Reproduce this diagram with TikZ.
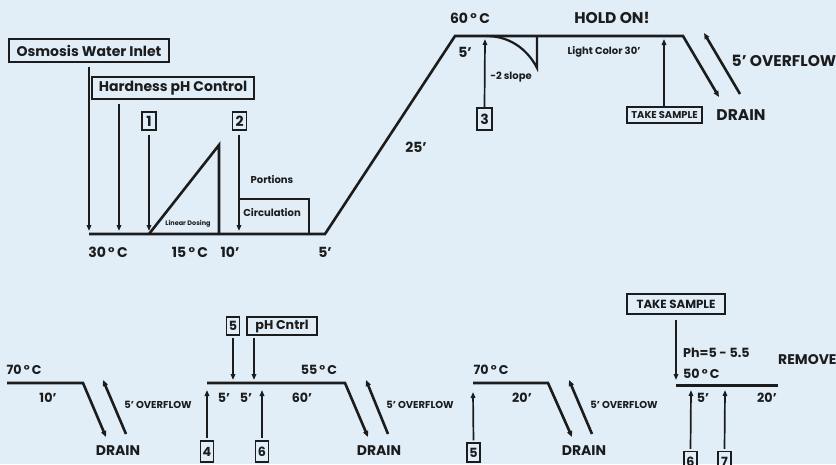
\documentclass[tikz,border=0pt]{standalone}
\usepackage{fontspec}
\setmainfont{Poppins}
\usetikzlibrary{arrows.meta}

\definecolor{bgblue}{RGB}{225,238,248}
\definecolor{ink}{RGB}{28,28,28}

\tikzset{
  big/.style={font=\bfseries\fontsize{14}{15}\selectfont},
  caps/.style={font=\bfseries\fontsize{15.5}{16}\selectfont},
  med/.style={font=\bfseries\fontsize{12.7}{14}\selectfont},
  medcaps/.style={font=\bfseries\fontsize{14}{15}\selectfont},
  mid/.style={font=\bfseries\fontsize{10}{11}\selectfont},
  tiny/.style={font=\bfseries\fontsize{6.5}{7}\selectfont},
  tag/.style={draw=ink, line width=1.1pt, inner sep=0pt},
  numbox/.style={tag, minimum width=13pt, minimum height=19pt},
  profile/.style={draw=ink, line width=2.6pt},
  feed/.style={draw=ink, line width=1.7pt, -{Triangle[length=6pt,width=4.5pt]}},
  drain/.style={profile, -{Triangle[length=6pt,width=5pt]}},
}

\begin{document}
\begin{tikzpicture}[x=1pt, y=-1pt, text=ink]
  \fill[bgblue] (0,0) rectangle (836,464);
  \clip (0,0) rectangle (836,464);

  % ---- phase 1: filling, dosing, heating ----
  \node[tag,big, minimum width=160pt, minimum height=23pt] (osm) at (89,50.5) {Osmosis Water Inlet};
  \node[tag,big, minimum width=162pt, minimum height=22pt] (hard) at (173,88) {Hardness pH Control};
  \node[numbox,big, minimum width=14pt, minimum height=18pt] (one) at (149,121) {1};
  \node[numbox,big, minimum width=14pt, minimum height=18pt] (two) at (239.5,121) {2};
  \node[numbox,big, minimum width=15pt, minimum height=22pt] (three) at (484.5,119) {3};
  \node[tag,font=\bfseries\fontsize{9.9}{10}\selectfont, minimum width=75pt, minimum height=16pt] (sampleA) at (664.5,115) {TAKE SAMPLE};

  \coordinate (osmIn) at (89,231);
  \coordinate (hardIn) at (119,231);
  \coordinate (oneIn) at (149,231);
  \coordinate (twoIn) at (239,231);
  \coordinate (threeIn) at (485,39);
  \coordinate (sampleIn) at (664,39);

  \draw[feed, shorten <=4pt] (osm.south) -- (osmIn);
  \draw[feed, shorten <=4pt] (hard.south -| hardIn) -- (hardIn);
  \draw[feed, shorten <=4pt] (one.south) -- (oneIn);
  \draw[feed, shorten <=4pt] (two.south -| twoIn) -- (twoIn);
  \draw[feed] (three.north) -- (threeIn);
  \draw[feed] (sampleA.north -| sampleIn) -- (sampleIn);

  % temperature profile
  \draw[drain] (89,234) -- (325,234) -- (455,36) -- (683,36) -- (719,97);
  \draw[profile] (149,234) -- (219,145) -- (219,234);
  \draw[profile, line width=2.2pt] (240,199) -- (309,199) -- (309,234);
  \draw[profile, line width=2.2pt] (486,36) .. controls (514,36) and (530,54) .. (537,68) -- (537,36);
  \coordinate (ovA1) at (740,94);
  \coordinate (ovA2) at (704,33);
  \draw[drain] (ovA1) -- (ovA2);

  \node[big] (t60) at (470,18) {60\,°\,C};
  \node[caps] (hold) at (612,18) {HOLD ON!};
  \node[big] (d5a) at (465,52) {5’};
  \node[mid] (slope) at (511,77) {-2 slope};
  \node[mid] (light) at (604,52) {Light Color 30’};
  \node[caps] (ovA) at (784,61) {5’ OVERFLOW};
  \node[caps] (drA) at (741,115) {DRAIN};
  \node[big] (d25) at (416,147) {25’};
  \node[mid] (port) at (272,180) {Portions};
  \node[mid] (circ) at (272,213) {Circulation};
  \node[tiny] (lin) at (188,224) {Linear Dosing};
  \node[big] (t30) at (108,252) {30\,°\,C};
  \node[big] (t15) at (190,252) {15\,°\,C};
  \node[big] (d10) at (230,252) {10’};
  \node[big] (d5b) at (325,252) {5’};

  % ---- phase 2: rinsing, dyeing, neutralising ----
  \draw[drain] (7,383) -- (83,383) -- (106,437);
  \coordinate (ovB1) at (126,434);
  \coordinate (ovB2) at (103,380);
  \draw[drain] (ovB1) -- (ovB2);
  \node[med] (t70a) at (24,370) {70\,°\,C};
  \node[med] (d10b) at (48,398) {10’};
  \node[mid] (ovB) at (158,405) {5’ OVERFLOW};
  \node[medcaps] (drB) at (118,451) {DRAIN};

  \draw[drain] (207,383) -- (345,383) -- (368,437);
  \coordinate (ovC1) at (388,434);
  \coordinate (ovC2) at (366,380);
  \draw[drain] (ovC1) -- (ovC2);
  \node[numbox,med, minimum height=18pt] (fiveA) at (233,326) {5};
  \node[tag,med, minimum width=70pt, minimum height=18pt] (phc) at (282,326) {pH Cntrl};
  \node[numbox,med, minimum height=21pt] (four) at (207,451.5) {4};
  \node[numbox,med, minimum height=21pt] (sixA) at (262,451.5) {6};
  \coordinate (fiveAIn) at (233,380);
  \coordinate (phcIn) at (254,380);
  \coordinate (fourIn) at (207,390);
  \coordinate (sixAIn) at (262,390);
  \draw[feed, shorten <=2pt] (fiveA.south) -- (fiveAIn);
  \draw[feed, shorten <=2pt] (phc.south -| phcIn) -- (phcIn);
  \draw[feed, shorten <=2pt] (four.north) -- (fourIn);
  \draw[feed, shorten <=2pt] (sixA.north) -- (sixAIn);
  \node[med] (d5c) at (224,398) {5’};
  \node[med] (d5d) at (246,398) {5’};
  \node[med] (t55) at (319,370) {55\,°\,C};
  \node[med] (d60) at (302,398) {60’};
  \node[mid] (ovC) at (420,405) {5’ OVERFLOW};
  \node[medcaps] (drC) at (379,451) {DRAIN};

  \draw[drain] (473,383) -- (548,383) -- (572,437);
  \coordinate (ovD1) at (592,434);
  \coordinate (ovD2) at (569,380);
  \draw[drain] (ovD1) -- (ovD2);
  \node[numbox,med] (fiveB) at (473.5,452.5) {5};
  \coordinate (fiveBIn) at (473,392);
  \draw[feed, shorten <=2pt] (fiveB.north) -- (fiveBIn);
  \node[med] (t70b) at (491,370) {70\,°\,C};
  \node[med] (d20a) at (522,398) {20’};
  \node[mid] (ovD) at (624,405) {5’ OVERFLOW};
  \node[medcaps] (drD) at (584,451) {DRAIN};

  \draw[profile, line width=3pt] (676,385) -- (778,385);
  \node[tag,font=\bfseries\fontsize{11.8}{12}\selectfont, minimum width=98pt, minimum height=20pt] (sampleB) at (676,304) {TAKE SAMPLE};
  \coordinate (sampleBIn) at (676,380);
  \draw[feed, shorten <=5pt] (sampleB.south) -- (sampleBIn);
  \node[med, anchor=west, inner sep=0pt] (ph) at (683,353) {Ph=5 - 5.5};
  \node[med, anchor=west, inner sep=0pt] (t50) at (683,374) {50\,°\,C};
  \node[medcaps, anchor=west, inner sep=0pt] (rem) at (778,360) {REMOVE};
  \node[numbox,med, minimum height=21pt] (sixB) at (690.5,462) {6};
  \node[numbox,med, minimum height=21pt] (seven) at (724.5,462) {7};
  \coordinate (sixBIn) at (691,390);
  \coordinate (sevenIn) at (725,390);
  \draw[feed, shorten <=2pt] (sixB.north) -- (sixBIn);
  \draw[feed, shorten <=2pt] (seven.north) -- (sevenIn);
  \node[med] (d5e) at (703,398) {5’};
  \node[med] (d20b) at (767,398) {20’};
\end{tikzpicture}
\end{document}
